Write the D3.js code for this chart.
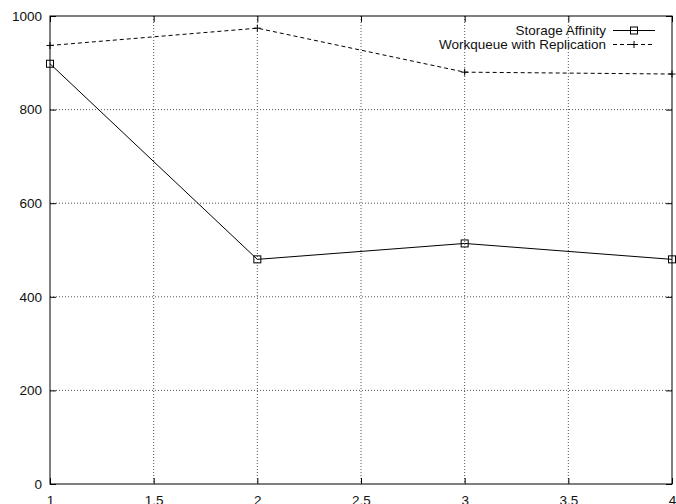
<!DOCTYPE html>
<html>
<head>
<meta charset="utf-8">
<script src="https://cdn.jsdelivr.net/npm/d3@7"></script>
<style>
  body { margin: 0; background: #fff; }
  svg { display: block; font-family: "Liberation Sans", Arial, sans-serif; }
</style>
</head>
<body>
<svg width="676" height="504"></svg>
<script>
const svg = d3.select("svg");

// Data
const xValues = [1, 2, 3, 4];
const storageAffinity = [898, 480, 514, 480];
const workqueueReplication = [937, 974, 880, 876];
const xTicks = [1, 1.5, 2, 2.5, 3, 3.5, 4];
const yTicks = [0, 200, 400, 600, 800, 1000];
const seriesNames = ["Storage Affinity", "Workqueue with Replication"];

const plotLeft = 50, plotRight = 672, plotTop = 16, plotBottom = 484;
const fontSize = 13.5;

const xScale = d3.scaleLinear().domain([1, 4]).range([plotLeft, plotRight]);
const yScale = d3.scaleLinear().domain([0, 1000]).range([plotBottom, plotTop]);

// Grid lines
const grid = svg.append("g");
grid.selectAll("line.gx").data(xTicks.slice(1, -1))
    .enter().append("line")
    .attr("x1", d => xScale(d)).attr("x2", d => xScale(d))
    .attr("y1", plotTop).attr("y2", plotBottom)
    .attr("stroke", "#555").attr("stroke-width", 1)
    .attr("stroke-dasharray", "1,2");
grid.selectAll("line.gy").data(yTicks.slice(1, -1))
    .enter().append("line")
    .attr("x1", plotLeft).attr("x2", plotRight)
    .attr("y1", d => yScale(d)).attr("y2", d => yScale(d))
    .attr("stroke", "#555").attr("stroke-width", 1)
    .attr("stroke-dasharray", "1,2");

// Axes with inward ticks
const xAxis = svg.append("g")
    .attr("transform", `translate(0,${plotBottom})`)
    .call(d3.axisBottom(xScale).tickValues(xTicks).tickSize(-6).tickPadding(11)
        .tickFormat(d => String(d)));
const xAxisTop = svg.append("g")
    .attr("transform", `translate(0,${plotTop})`)
    .call(d3.axisTop(xScale).tickValues(xTicks).tickSize(-6).tickFormat(""));
const yAxis = svg.append("g")
    .attr("transform", `translate(${plotLeft},0)`)
    .call(d3.axisLeft(yScale).tickValues(yTicks).tickSize(-6).tickPadding(8)
        .tickFormat(d => String(d)));
const yAxisRight = svg.append("g")
    .attr("transform", `translate(${plotRight},0)`)
    .call(d3.axisRight(yScale).tickValues(yTicks).tickSize(-6).tickFormat(""));

[xAxis, xAxisTop, yAxis, yAxisRight].forEach(a => {
    a.select(".domain").remove();
    a.selectAll("line").attr("stroke", "#000");
    a.selectAll("text").attr("font-size", fontSize).attr("fill", "#111")
        .attr("font-family", "Liberation Sans, Arial, sans-serif");
});
xAxis.selectAll("text").attr("dy", "0.71em");

// Plot border
svg.append("rect")
    .attr("x", plotLeft).attr("y", plotTop)
    .attr("width", plotRight - plotLeft).attr("height", plotBottom - plotTop)
    .attr("fill", "none").attr("stroke", "#000").attr("stroke-width", 1);

const line = d3.line().x(d => xScale(d[0])).y(d => yScale(d[1]));
const sa = xValues.map((x, i) => [x, storageAffinity[i]]);
const wq = xValues.map((x, i) => [x, workqueueReplication[i]]);

svg.append("path").datum(sa).attr("d", line)
    .attr("fill", "none").attr("stroke", "#000").attr("stroke-width", 1);
svg.append("path").datum(wq).attr("d", line)
    .attr("fill", "none").attr("stroke", "#000").attr("stroke-width", 1)
    .attr("stroke-dasharray", "4,3");

const square = (g, x, y) => g.append("rect")
    .attr("x", x - 3.5).attr("y", y - 3.5).attr("width", 7).attr("height", 7)
    .attr("fill", "none").attr("stroke", "#000").attr("stroke-width", 1);
const plus = (g, x, y) => g.append("path")
    .attr("d", `M${x - 3.5},${y}H${x + 3.5}M${x},${y - 3.5}V${y + 3.5}`)
    .attr("stroke", "#000").attr("stroke-width", 1);

const marks = svg.append("g");
sa.forEach(d => square(marks, xScale(d[0]), yScale(d[1])));
wq.forEach(d => plus(marks, xScale(d[0]), yScale(d[1])));

// Legend
const legend = svg.append("g");
const legY = [30.5, 44.5];
seriesNames.forEach((name, i) => {
    legend.append("text")
        .attr("x", 606).attr("y", legY[i]).attr("dy", "0.33em")
        .attr("text-anchor", "end").attr("font-size", fontSize).attr("fill", "#111")
        .text(name);
    const l = legend.append("line")
        .attr("x1", 613).attr("x2", 655)
        .attr("y1", legY[i]).attr("y2", legY[i])
        .attr("stroke", "#000").attr("stroke-width", 1);
    if (i === 1) l.attr("stroke-dasharray", "4,3");
});
square(legend, 634, legY[0]);
plus(legend, 634, legY[1]);
</script>
</body>
</html>
